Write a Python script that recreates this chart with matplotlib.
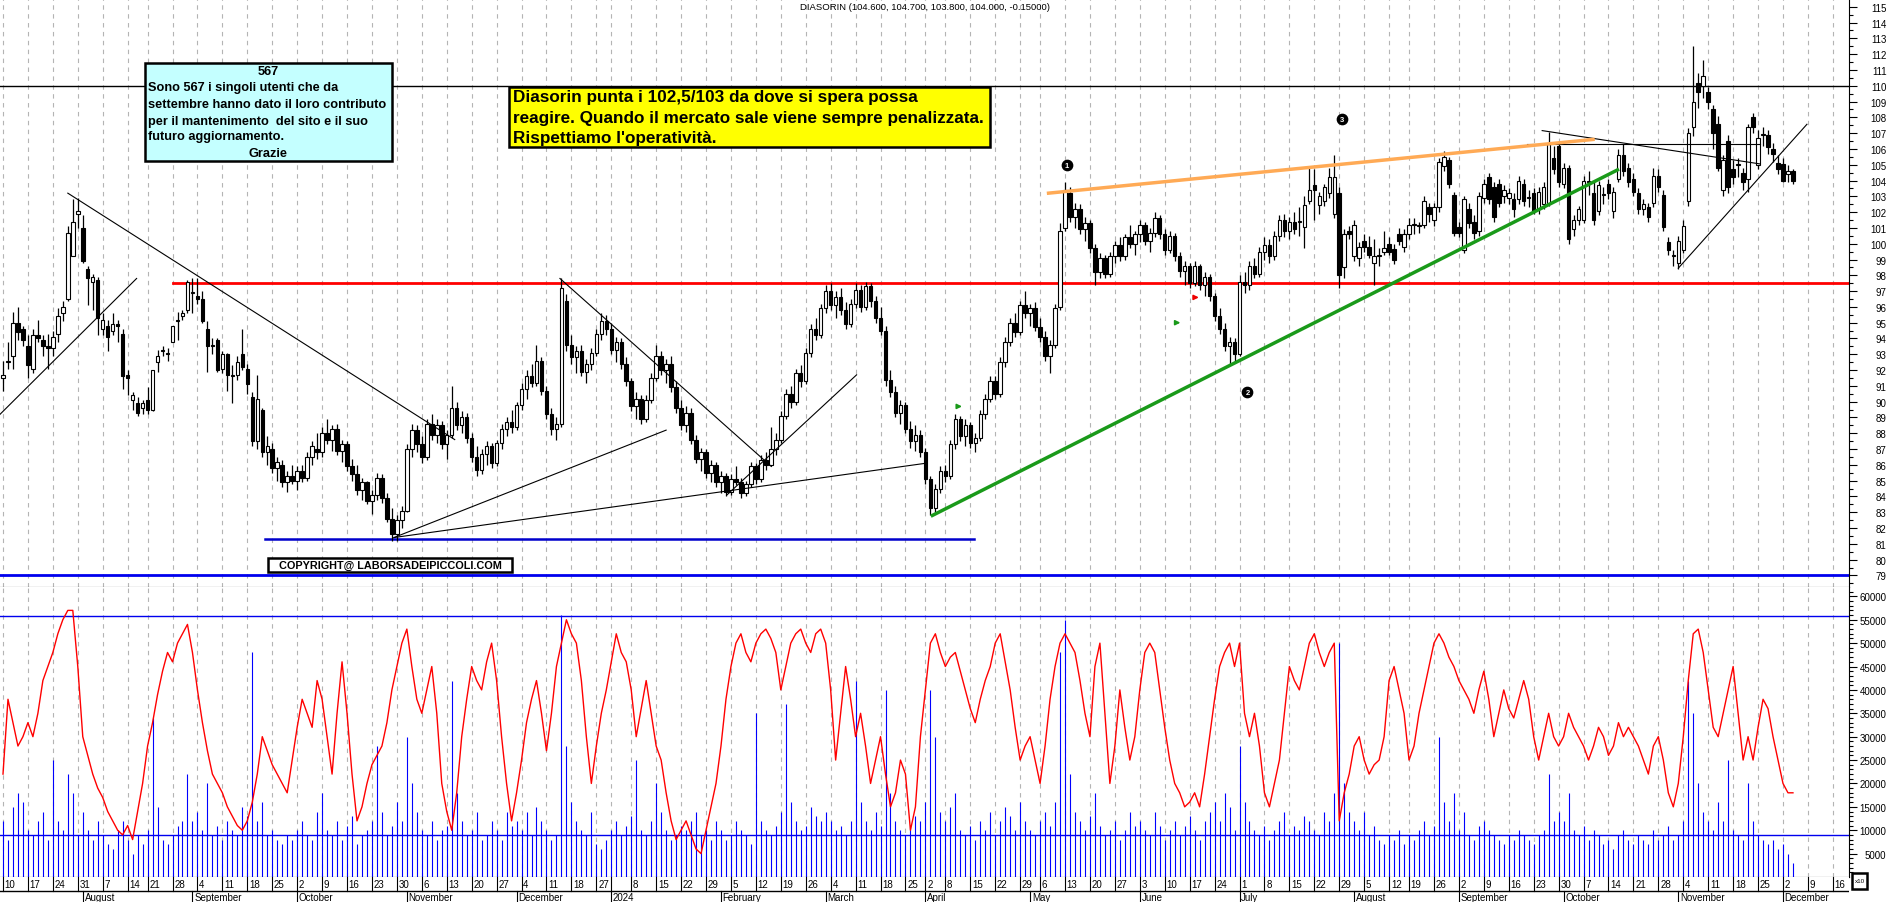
import matplotlib
matplotlib.use("Agg")
import matplotlib.pyplot as plt
from matplotlib.patches import Rectangle
import numpy as np
import pandas as pd

plt.rcParams['font.family'] = ['Liberation Sans', 'DejaVu Sans']

# daily candles (open, high, low, close), one list per month
jul23 = [(91.5, 92.6, 90.7, 91.7), (92.5, 93.8, 92.1, 92.5), (92.9, 95.7, 92.1, 95.0), (95.0, 96.0, 93.9, 94.4),
         (94.6, 94.8, 93.5, 93.9), (93.5, 94.2, 91.5, 92.3), (92.1, 94.6, 91.8, 94.2), (94.2, 95.2, 93.8, 94.0),
         (93.9, 94.2, 92.9, 93.5), (93.5, 94.3, 92.1, 93.4), (93.4, 94.5, 92.9, 94.1), (94.3, 95.9, 93.8, 95.4),
         (95.6, 96.4, 95.1, 96.0), (96.5, 101.1, 96.4, 100.7), (99.2, 102.8, 99.2, 101.4), (101.9, 102.9, 101.0, 102.1)]
aug23 = [(101.0, 101.8, 98.8, 98.9), (98.4, 98.6, 96.1, 97.8), (97.6, 98.1, 95.8, 97.9), (97.7, 97.9, 94.2, 95.3),
         (94.6, 95.6, 94.2, 95.2), (94.8, 95.2, 93.2, 94.1), (94.5, 95.6, 94.2, 94.9), (94.9, 95.2, 93.8, 94.8),
         (94.3, 94.6, 90.8, 91.6), (91.7, 92.0, 90.4, 91.5), (90.1, 90.6, 89.5, 90.4), (89.9, 90.3, 89.1, 89.3),
         (89.6, 90.1, 89.2, 89.9), (90.1, 90.9, 89.2, 89.5), (89.5, 92.0, 89.4, 92.0), (92.5, 93.3, 91.9, 92.9),
         (93.2, 93.5, 92.9, 93.2), (93.0, 93.4, 92.6, 93.0), (93.8, 94.8, 93.8, 94.8), (95.1, 95.7, 93.9, 95.2),
         (95.4, 95.8, 95.2, 95.6), (95.8, 97.7, 95.6, 97.6)]
sep23 = [(96.9, 97.8, 95.6, 96.9), (96.7, 97.8, 96.2, 96.5), (96.5, 97.0, 95.0, 95.1), (94.6, 95.1, 91.9, 93.5),
         (93.6, 94.0, 93.0, 93.5), (93.9, 94.0, 91.9, 92.0), (92.1, 93.2, 91.8, 93.0), (93.0, 93.1, 90.7, 91.7),
         (91.6, 92.3, 89.9, 91.7), (91.7, 92.9, 91.4, 92.5), (93.0, 94.6, 92.0, 92.2), (92.1, 92.4, 90.5, 91.1),
         (90.3, 90.6, 87.2, 87.5), (87.5, 91.7, 87.0, 90.2), (89.5, 89.6, 86.5, 86.8), (86.8, 87.8, 86.0, 87.2),
         (87.0, 87.4, 85.5, 85.8), (85.8, 86.5, 85.0, 86.2), (86.0, 86.3, 84.6, 84.9), (84.9, 85.6, 84.3, 85.3),
         (85.3, 86.0, 84.8, 85.0)]
oct23 = [(85.0, 85.9, 84.4, 85.6), (85.6, 86.0, 84.9, 85.2), (85.2, 86.8, 85.0, 86.5), (86.5, 87.5, 86.0, 87.2),
         (87.0, 88.0, 86.4, 86.8), (86.8, 88.4, 86.5, 88.0), (88.0, 88.9, 87.3, 87.6), (87.6, 88.5, 86.9, 88.3),
         (88.3, 88.6, 86.6, 86.9), (86.9, 87.6, 86.2, 87.3), (87.3, 87.5, 85.6, 85.9), (85.9, 86.4, 85.0, 85.4),
         (85.4, 86.0, 84.1, 84.4), (84.4, 85.2, 83.8, 84.9), (84.9, 85.0, 83.5, 83.7), (83.7, 84.4, 82.9, 84.1),
         (84.1, 85.5, 83.8, 85.2), (85.2, 85.4, 83.6, 83.9), (83.9, 84.2, 82.4, 82.6), (82.6, 83.3, 81.2, 81.6),
         (81.6, 82.8, 81.2, 82.5), (82.5, 83.4, 82.0, 83.1)]
nov23 = [(83.1, 87.3, 83.0, 87.0), (87.0, 88.6, 86.5, 88.2), (88.2, 88.5, 86.8, 87.3), (87.3, 87.8, 86.1, 86.5),
         (86.5, 88.9, 86.3, 88.6), (88.6, 89.2, 87.6, 87.9), (87.9, 88.9, 87.4, 88.5), (88.5, 88.8, 87.0, 87.3),
         (87.3, 88.2, 86.4, 87.9), (87.9, 91.0, 87.7, 89.6), (89.6, 90.0, 88.2, 88.5), (88.5, 89.4, 88.0, 89.0),
         (89.0, 89.3, 87.4, 87.7), (87.7, 88.0, 86.2, 86.5), (86.5, 87.2, 85.3, 85.7), (85.7, 87.0, 85.4, 86.7),
         (86.7, 87.5, 86.0, 87.2), (87.2, 87.4, 85.8, 86.1), (86.1, 87.6, 85.9, 87.4), (87.4, 88.6, 87.0, 88.3),
         (88.3, 89.0, 87.8, 88.7), (88.7, 89.5, 88.0, 88.4)]
dec23 = [(88.4, 90.0, 88.2, 89.8), (89.8, 91.2, 89.5, 90.8), (90.8, 92.0, 90.2, 91.6), (91.6, 92.4, 90.9, 91.2),
         (91.2, 93.6, 91.0, 92.6), (92.6, 92.8, 90.4, 90.7), (90.7, 91.0, 88.9, 89.2), (89.2, 89.6, 87.9, 88.3),
         (88.3, 89.0, 87.6, 88.6), (88.6, 97.8, 88.4, 97.2), (96.4, 96.8, 93.2, 93.6), (93.6, 94.2, 92.4, 92.8),
         (92.8, 93.5, 91.8, 93.2), (93.2, 93.6, 91.6, 91.9), (91.9, 92.7, 91.2, 92.4), (92.4, 93.4, 92.0, 93.1),
         (93.1, 94.6, 92.9, 94.3), (94.3, 95.6, 93.9, 95.1), (95.1, 95.5, 94.2, 94.6)]
jan24 = [(94.6, 95.0, 93.0, 93.3), (93.3, 94.1, 92.5, 93.8), (93.8, 94.0, 92.1, 92.4), (92.4, 92.8, 91.0, 91.3),
         (91.3, 91.5, 89.4, 89.7), (89.7, 90.6, 88.9, 90.2), (90.2, 90.4, 88.6, 88.9), (88.9, 90.4, 88.7, 90.1),
         (90.1, 91.8, 89.9, 91.5), (91.5, 93.6, 91.3, 92.9), (92.9, 93.2, 91.7, 92.0), (92.0, 92.7, 91.2, 92.4),
         (92.4, 92.9, 90.6, 90.9), (90.9, 91.3, 89.3, 89.6), (89.6, 90.1, 88.2, 88.5), (88.5, 89.7, 88.1, 89.3),
         (89.3, 89.6, 87.3, 87.6), (87.6, 87.9, 86.1, 86.4), (86.4, 87.1, 85.6, 86.8), (86.8, 87.0, 85.2, 85.5),
         (85.5, 86.3, 84.9, 86.0), (86.0, 86.2, 84.6, 84.9)]
feb24 = [(84.9, 85.6, 84.2, 85.3), (85.3, 85.5, 84.0, 84.3), (84.3, 85.4, 84.1, 85.1), (85.1, 85.9, 84.7, 84.9),
         (84.9, 85.2, 83.9, 84.2), (84.2, 85.0, 84.0, 84.8), (84.8, 86.2, 84.6, 85.9), (85.9, 86.1, 84.8, 85.1),
         (85.1, 86.6, 84.9, 86.3), (86.3, 86.8, 85.7, 86.0), (86.0, 88.4, 85.9, 87.0), (87.0, 88.0, 86.6, 87.6),
         (87.6, 89.4, 87.4, 89.1), (89.1, 90.8, 88.9, 90.5), (90.5, 91.0, 89.6, 90.0), (90.0, 92.1, 89.8, 91.8),
         (91.8, 92.3, 90.9, 91.3), (91.3, 93.4, 91.1, 93.1), (93.1, 94.9, 92.8, 94.6), (94.6, 95.3, 93.9, 94.2),
         (94.2, 96.2, 94.0, 95.9)]
mar24 = [(95.9, 97.4, 95.6, 97.0), (97.0, 97.5, 95.8, 96.1), (96.1, 97.0, 95.3, 96.6), (96.6, 97.2, 95.5, 95.8),
         (95.8, 96.3, 94.6, 94.9), (94.9, 96.5, 94.7, 96.2), (96.2, 97.5, 95.9, 97.1), (97.1, 97.4, 95.7, 96.0),
         (96.0, 97.6, 95.8, 97.3), (97.3, 97.5, 96.0, 96.4), (96.4, 96.7, 95.0, 95.3), (95.3, 96.0, 94.2, 94.5),
         (94.5, 94.8, 91.0, 91.4), (91.4, 92.0, 90.3, 90.6), (90.6, 91.0, 89.0, 89.3), (89.3, 90.1, 88.6, 89.8),
         (89.8, 90.0, 88.0, 88.3), (88.3, 88.8, 87.1, 87.5), (87.5, 88.5, 86.9, 87.9), (87.9, 88.2, 86.5, 86.8)]
apr24 = [(86.8, 87.1, 84.8, 85.1), (85.1, 85.3, 82.8, 83.3), (83.3, 84.8, 83.0, 84.5), (84.5, 85.9, 84.2, 85.6),
         (85.6, 86.0, 84.9, 85.3), (85.3, 87.6, 85.1, 87.3), (87.3, 89.2, 87.0, 88.9), (88.9, 89.1, 87.5, 87.8),
         (87.8, 88.9, 87.2, 88.5), (88.5, 88.7, 87.1, 87.4), (87.4, 88.0, 86.8, 87.7), (87.7, 89.5, 87.5, 89.2),
         (89.2, 90.5, 88.9, 90.2), (90.2, 91.6, 90.0, 91.3), (91.3, 91.6, 90.2, 90.5), (90.5, 92.8, 90.3, 92.5),
         (92.5, 94.1, 92.2, 93.8), (93.8, 95.3, 93.5, 95.0), (95.0, 95.6, 94.1, 94.4), (94.4, 96.4, 94.2, 96.1),
         (96.1, 97.0, 95.3, 95.6)]
may24 = [(95.6, 96.2, 94.8, 95.9), (95.9, 96.3, 94.5, 94.7), (94.7, 95.3, 93.8, 94.1), (94.1, 94.5, 92.6, 92.9),
         (92.9, 93.9, 91.8, 93.6), (93.6, 96.2, 93.4, 95.9), (96.0, 101.3, 95.8, 100.8), (101.0, 103.9, 100.8, 103.4),
         (103.2, 103.6, 101.4, 101.7), (101.7, 102.6, 101.0, 102.2), (102.2, 102.5, 100.6, 100.9), (100.9, 101.7, 100.2, 101.3),
         (101.3, 101.5, 99.4, 99.7), (99.7, 100.0, 97.4, 98.2), (98.2, 99.4, 97.8, 99.1), (99.1, 99.3, 97.8, 98.1),
         (98.1, 99.5, 97.9, 99.2), (99.2, 100.2, 98.8, 99.9), (99.9, 100.4, 98.9, 99.2), (99.2, 100.6, 99.0, 100.4),
         (100.4, 101.2, 99.7, 100.0), (100.0, 100.8, 99.3, 100.6)]
jun24 = [(100.6, 101.5, 100.1, 101.2), (101.2, 101.4, 99.9, 100.2), (100.2, 101.0, 99.5, 100.7), (100.7, 102.0, 100.4, 101.6),
         (101.6, 101.8, 100.3, 100.6), (100.6, 100.9, 99.3, 99.6), (99.6, 100.8, 99.4, 100.5), (100.5, 100.7, 98.9, 99.2),
         (99.2, 99.5, 97.9, 98.3), (98.3, 98.9, 97.4, 98.6), (98.6, 98.8, 97.2, 97.5), (97.5, 98.9, 97.3, 98.6),
         (98.6, 98.7, 97.1, 97.4), (97.4, 98.2, 96.7, 97.9), (97.9, 98.1, 96.4, 96.7), (96.7, 96.9, 95.1, 95.4),
         (95.4, 95.9, 94.3, 94.6), (94.6, 95.0, 93.2, 93.5), (93.5, 94.1, 92.3, 93.8), (93.8, 94.0, 92.6, 93.0)]
jul24 = [(93.0, 98.0, 92.9, 97.6), (97.6, 98.2, 96.9, 97.4), (97.4, 98.9, 97.1, 98.6), (98.6, 99.1, 97.8, 98.1),
         (98.1, 99.8, 97.9, 99.5), (99.5, 100.4, 99.0, 99.9), (99.9, 100.3, 98.8, 99.2), (99.2, 100.8, 99.0, 100.5),
         (100.5, 101.8, 100.2, 101.5), (101.5, 101.9, 100.4, 100.8), (100.8, 101.7, 100.3, 101.4), (101.4, 102.0, 100.6, 100.9),
         (101.4, 102.3, 100.5, 101.4), (101.05, 103.0, 99.7, 102.45), (102.7, 104.8, 102.5, 103.4), (103.7, 104.7, 101.5, 103.4),
         (102.45, 103.3, 101.9, 103.05), (102.7, 103.8, 102.4, 103.6), (103.2, 104.8, 102.9, 104.2), (101.9, 105.6, 101.6, 104.2),
         (103.2, 103.6, 97.2, 98.0), (98.5, 100.9, 97.8, 100.6), (100.8, 101.1, 100.3, 100.6)]
aug24 = [(99.2, 101.5, 98.9, 101.2), (99.1, 100.1, 98.6, 99.8), (100.2, 100.6, 99.5, 99.8), (99.8, 100.5, 99.1, 99.3),
         (98.8, 100.3, 97.4, 99.2), (99.2, 99.7, 98.6, 99.2), (99.5, 100.8, 99.3, 99.7), (100.0, 100.4, 99.3, 99.5),
         (99.65, 100.0, 98.7, 99.0), (100.6, 101.0, 99.9, 100.2), (99.8, 100.9, 99.5, 100.6), (100.6, 101.6, 100.3, 101.2),
         (101.2, 101.6, 100.6, 101.2), (101.1, 101.4, 100.7, 101.1), (101.2, 103.0, 101.0, 102.7), (102.3, 102.6, 101.4, 101.9),
         (101.5, 102.6, 101.1, 102.3), (102.3, 105.4, 102.0, 105.2), (104.9, 105.9, 104.6, 105.5), (105.3, 105.5, 103.5, 103.8),
         (103.1, 103.3, 100.5, 100.7)]
sep24 = [(101.05, 101.4, 100.4, 100.7), (99.6, 103.0, 99.4, 102.8), (102.2, 102.6, 101.0, 101.3), (101.4, 101.8, 100.3, 100.7),
         (100.8, 103.3, 100.5, 103.0), (102.9, 104.1, 102.6, 103.8), (104.2, 104.5, 102.5, 102.8), (103.6, 103.9, 101.4, 101.7),
         (103.8, 104.1, 102.3, 102.6), (103.0, 103.7, 102.6, 103.4), (102.9, 103.5, 102.5, 103.2), (102.8, 103.2, 101.7, 102.2),
         (102.8, 104.3, 102.5, 104.0), (103.8, 104.1, 102.4, 102.7), (102.9, 103.4, 102.3, 102.9), (103.2, 103.5, 101.9, 102.1),
         (102.2, 103.6, 101.9, 103.3), (102.5, 103.9, 102.2, 103.6), (102.6, 107.1, 102.4, 106.3), (105.4, 106.2, 104.4, 104.7),
         (106.2, 106.5, 103.6, 103.9)]
oct24 = [(103.8, 105.1, 103.5, 104.8), (104.8, 105.0, 100.0, 100.3), (100.9, 101.8, 100.5, 101.5), (101.5, 102.4, 101.2, 102.2),
         (101.5, 104.3, 101.3, 104.0), (103.9, 104.6, 103.1, 103.9), (103.2, 103.9, 101.2, 101.5), (102.1, 104.0, 101.8, 103.7),
         (103.1, 103.6, 102.5, 103.1), (103.8, 104.1, 102.8, 103.2), (102.1, 103.6, 101.6, 103.3), (104.1, 106.0, 103.9, 105.6),
         (105.6, 106.3, 104.3, 104.6), (104.8, 105.1, 103.6, 103.9), (104.1, 104.5, 103.0, 103.3), (103.2, 103.5, 101.9, 102.2),
         (102.2, 102.8, 101.8, 102.5), (102.3, 102.6, 101.4, 101.7), (102.6, 104.8, 102.3, 104.3), (104.3, 104.7, 103.3, 103.6),
         (103.1, 103.4, 100.8, 101.05), (100.1, 100.4, 99.3, 99.6), (99.2, 99.6, 98.6, 99.2)]
nov24 = [(98.8, 100.5, 98.4, 100.2), (99.6, 101.5, 99.4, 101.1), (102.7, 107.3, 102.4, 107.0), (107.4, 112.5, 106.8, 109.0),
         (110.2, 110.8, 108.6, 109.6), (110.0, 111.6, 109.2, 110.6), (109.6, 109.9, 108.5, 109.0), (108.5, 108.8, 106.0, 107.0),
         (107.6, 108.1, 104.6, 104.8), (103.4, 105.6, 103.0, 105.3), (106.5, 106.9, 103.2, 103.6), (104.7, 105.3, 103.8, 104.2),
         (105.0, 105.4, 104.2, 105.0), (104.5, 104.8, 103.4, 103.9), (104.1, 107.6, 103.3, 107.4), (108.0, 108.3, 107.0, 107.4),
         (105.0, 107.2, 104.7, 106.7), (106.9, 107.4, 106.2, 106.9), (106.9, 107.2, 105.7, 106.1), (106.0, 106.4, 105.2, 105.65),
         (105.1, 105.6, 104.4, 104.7)]
dec24 = [(105.05, 105.4, 103.9, 104.0), (104.4, 105.0, 103.9, 104.6), (104.6, 104.7, 103.8, 104.0)]

# volume (blue bars) per month
vol_months = [
    [12000, 8000, 15000, 18000, 16000, 10000, 9000, 12000, 14000, 8000, 25000, 12000, 10000, 22000, 18000, 9000],
    [14000, 10000, 8000, 12000, 9000, 7000, 6000, 10000, 12000, 8000, 5000, 9000, 7000, 10000, 34000, 15000, 8000, 7000, 9000, 11000, 12000, 22000],
    [12000, 14000, 10000, 20000, 9000, 11000, 8000, 12000, 10000, 9000, 15000, 13000, 48000, 12000, 16000, 9000, 10000, 8000, 7000, 9000, 8000],
    [10000, 12000, 9000, 8000, 14000, 18000, 10000, 9000, 12000, 8000, 11000, 13000, 7000, 9000, 10000, 12000, 28000, 14000, 9000, 11000, 16000, 12000],
    [30000, 20000, 14000, 10000, 9000, 12000, 8000, 10000, 11000, 42000, 18000, 12000, 9000, 10000, 14000, 8000, 9000, 12000, 10000, 8000, 14000, 11000],
    [12000, 10000, 14000, 9000, 15000, 12000, 10000, 8000, 9000, 56000, 28000, 16000, 12000, 10000, 9000, 14000, 7000, 6000, 8000],
    [10000, 12000, 9000, 11000, 13000, 25000, 10000, 9000, 12000, 20000, 14000, 10000, 8000, 9000, 11000, 10000, 12000, 14000, 9000, 10000, 8000, 12000],
    [10000, 8000, 9000, 12000, 10000, 9000, 7000, 35000, 12000, 10000, 9000, 11000, 14000, 37000, 16000, 12000, 10000, 11000, 15000, 13000, 12000],
    [14000, 12000, 10000, 11000, 9000, 12000, 42000, 16000, 12000, 10000, 14000, 11000, 40000, 18000, 12000, 10000, 9000, 11000, 13000, 12000],
    [16000, 40000, 30000, 14000, 12000, 15000, 18000, 10000, 9000, 11000, 8000, 12000, 10000, 14000, 9000, 12000, 15000, 13000, 10000, 16000, 12000],
    [10000, 9000, 12000, 14000, 11000, 16000, 48000, 55000, 22000, 14000, 12000, 10000, 13000, 18000, 11000, 9000, 10000, 12000, 8000, 10000, 14000, 11000],
    [12000, 10000, 9000, 14000, 11000, 8000, 10000, 12000, 9000, 11000, 13000, 10000, 8000, 12000, 14000, 16000, 12000, 18000, 15000, 10000],
    [28000, 16000, 12000, 10000, 9000, 11000, 8000, 10000, 12000, 14000, 9000, 11000, 10000, 13000, 12000, 10000, 9000, 14000, 12000, 18000, 50000, 20000, 14000],
    [12000, 10000, 14000, 9000, 11000, 8000, 7000, 9000, 8000, 10000, 7000, 9000, 8000, 10000, 12000, 9000, 11000, 30000, 16000, 12000, 18000],
    [10000, 14000, 9000, 8000, 11000, 12000, 10000, 9000, 8000, 7000, 9000, 8000, 10000, 9000, 8000, 7000, 9000, 10000, 22000, 12000, 14000],
    [12000, 18000, 10000, 9000, 11000, 8000, 10000, 9000, 7000, 8000, 6000, 9000, 10000, 8000, 7000, 9000, 8000, 7000, 10000, 8000, 9000, 11000, 8000],
    [9000, 12000, 42000, 35000, 20000, 14000, 12000, 10000, 16000, 12000, 25000, 10000, 9000, 8000, 20000, 12000, 9000, 8000, 7000, 8000, 6000],
    [7000, 5000, 3000],
]

# red line in the lower panel, per month
osc_months = [
    [22000, 38000, 33000, 28000, 30000, 33000, 30000, 35000, 42000, 45000, 48000, 52000, 55000, 57000, 57000, 45000],
    [30000, 26000, 22000, 19000, 17000, 14000, 12000, 10000, 9000, 11000, 8000, 14000, 20000, 28000, 33000, 39000, 44000, 48000, 46000, 50000, 52000, 54000],
    [48000, 40000, 33000, 27000, 22000, 20000, 18000, 15000, 13000, 11000, 10000, 12000, 16000, 22000, 30000, 27000, 24000, 22000, 20000, 18000, 25000],
    [32000, 38000, 35000, 32000, 42000, 38000, 30000, 22000, 35000, 46000, 35000, 22000, 12000, 15000, 20000, 24000, 26000, 28000, 33000, 40000, 45000, 50000],
    [53000, 45000, 38000, 35000, 40000, 45000, 35000, 20000, 14000, 10000, 18000, 30000, 38000, 45000, 42000, 40000, 46000, 50000, 42000, 30000, 20000, 12000],
    [18000, 25000, 33000, 38000, 42000, 35000, 27000, 35000, 45000, 50000, 55000, 52000, 50000, 42000, 30000, 20000, 28000, 35000, 40000],
    [46000, 52000, 48000, 46000, 40000, 30000, 36000, 42000, 35000, 28000, 25000, 18000, 12000, 8000, 10000, 12000, 9000, 6000, 5000, 10000, 15000, 20000],
    [28000, 38000, 45000, 50000, 52000, 48000, 46000, 50000, 52000, 53000, 51000, 48000, 40000, 45000, 50000, 52000, 53000, 50000, 48000, 52000, 53000],
    [50000, 40000, 25000, 35000, 45000, 38000, 30000, 35000, 28000, 20000, 25000, 30000, 22000, 15000, 18000, 25000, 22000, 10000, 15000, 30000],
    [40000, 50000, 52000, 48000, 45000, 47000, 48000, 44000, 40000, 36000, 33000, 38000, 42000, 45000, 50000, 52000, 46000, 40000, 32000, 25000, 28000],
    [30000, 25000, 20000, 28000, 38000, 45000, 50000, 52000, 50000, 48000, 42000, 35000, 30000, 45000, 50000, 35000, 20000, 28000, 40000, 32000, 25000, 30000],
    [40000, 48000, 50000, 48000, 40000, 32000, 25000, 20000, 18000, 15000, 16000, 18000, 15000, 22000, 30000, 38000, 45000, 48000, 50000, 45000],
    [50000, 35000, 30000, 35000, 28000, 18000, 15000, 20000, 25000, 35000, 45000, 42000, 40000, 45000, 50000, 52000, 48000, 45000, 48000, 50000, 12000, 18000, 22000],
    [28000, 30000, 25000, 22000, 24000, 25000, 30000, 42000, 45000, 40000, 35000, 25000, 28000, 35000, 40000, 45000, 50000, 52000, 50000, 47000, 45000],
    [42000, 40000, 38000, 35000, 40000, 44000, 38000, 30000, 35000, 40000, 36000, 34000, 38000, 42000, 38000, 30000, 25000, 30000, 35000, 30000, 28000],
    [30000, 35000, 32000, 30000, 28000, 25000, 28000, 32000, 30000, 26000, 28000, 33000, 30000, 32000, 30000, 28000, 25000, 22000, 28000, 30000, 25000, 18000, 15000],
    [20000, 30000, 42000, 52000, 53000, 48000, 40000, 32000, 30000, 35000, 40000, 45000, 35000, 25000, 30000, 25000, 32000, 38000, 36000, 30000, 25000],
    [20000, 18000, 18000],
]

holidays = ['2023-08-15', '2023-12-25', '2023-12-26', '2024-01-01',
            '2024-03-29', '2024-04-01', '2024-05-01', '2024-08-15']

candles = (jul23 + aug23 + sep23 + oct23 + nov23 + dec23 + jan24 + feb24 + mar24
           + apr24 + may24 + jun24 + jul24 + aug24 + sep24 + oct24 + nov24 + dec24)
volume = np.array(sum(vol_months, []), dtype=float)
osc = np.array(sum(osc_months, []), dtype=float)

o = np.array([c[0] for c in candles])
h = np.array([c[1] for c in candles])
l = np.array([c[2] for c in candles])
c = np.array([c[3] for c in candles])
n = len(candles)
x = np.arange(n)
if len(volume) != n or len(osc) != n:
    raise SystemExit(f"length mismatch {n} {len(volume)} {len(osc)}")

days = pd.bdate_range('2023-07-10', '2024-12-20')
days = days[~days.isin(pd.to_datetime(holidays))]

W, H = 1890, 903
fig = plt.figure(figsize=(W / 100, H / 100), dpi=100)

def px_axes(x0, y0, x1, y1):
    return fig.add_axes([x0 / W, 1 - y1 / H, (x1 - x0) / W, (y1 - y0) / H])

ax = px_axes(0, 0, 1849, 588)
axv = px_axes(0, 588, 1849, 878)
axd = px_axes(0, 878, 1849, 903)

xlim = (-0.6, -0.6 + 1849 / 4.986)
for a in (ax, axv, axd):
    a.set_xlim(*xlim)
    a.set_xticks([])
    for s in ('left', 'top'):
        a.spines[s].set_visible(False)
ax.set_ylim(78.27, 115.49)
axv.set_ylim(0, 62000)

# week and month starts
week_starts = [0] + [i for i in range(1, len(days)) if days[i].weekday() < days[i - 1].weekday()]
month_starts = [0] + [i for i in range(1, len(days)) if days[i].month != days[i - 1].month]

grid_kw = dict(color='#b4b4b4', lw=0.8, linestyle=(0, (4, 4)), zorder=0)
for w in week_starts:
    if w < xlim[1]:
        ax.axvline(w, **grid_kw)
        axv.axvline(w, **grid_kw)

# right axes
ax.set_yticks(np.arange(79, 116, 1))
ax.set_yticks(np.arange(78.5, 115.5, 0.5), minor=True)
axv.set_yticks(np.arange(5000, 60001, 5000))
axv.set_yticks(np.arange(1000, 62000, 1000), minor=True)
for a in (ax, axv):
    a.yaxis.tick_right()
    a.tick_params(axis='y', which='major', length=6, width=0.8, pad=21, labelsize=7)
    a.tick_params(axis='y', which='minor', length=3, width=0.8)
    for t in a.get_yticklabels():
        t.set_horizontalalignment('right')

# candles
up = c >= o
ax.vlines(x, l, h, color='black', lw=0.9, zorder=3)
ax.bar(x, np.maximum(np.abs(c - o), 0.06), bottom=np.minimum(o, c), width=0.7,
       color=np.where(up, 'white', 'black'), edgecolor='black', linewidth=0.8, zorder=4)

# horizontal levels and trendlines
ax.axhline(110, color='black', lw=1.0, zorder=2)
ax.axhline(79, color='#0000ee', lw=2.0, zorder=2)
ax.plot([34, xlim[1]], [97.5, 97.5], color='#ff0000', lw=2.0, zorder=2)
ax.plot([52.6, 194.8], [81.3, 81.3], color='#0000cc', lw=1.8, zorder=2)

trend_lines = [
    ((-0.6, 26.8), (89.2, 97.8)),
    ((13.0, 90.6), (103.2, 87.6)),
    ((78.4, 133.0), (81.4, 88.2)),
    ((78.4, 185.0), (81.4, 86.1)),
    ((111.7, 154.1), (97.8, 85.9)),
    ((145.2, 171.2), (84.1, 91.7)),
    ((305.7, 352.4), (106.34, 106.34)),
    ((308.7, 352.4), (107.16, 105.05)),
    ((336.0, 361.8), (98.45, 107.56)),
]
for xs, ys in trend_lines:
    ax.plot(xs, ys, color='black', lw=0.8, zorder=5)
ax.plot([209.7, 318.9], [103.2, 106.6], color='#ffaa55', lw=2.5, zorder=5)
ax.plot([186.4, 323.8], [82.8, 104.67], color='#1a9a1a', lw=2.5, zorder=5)

# small arrows
for ax_x, ax_y, col in [(191.5, 89.7, '#1a9a1a'), (235.3, 95.0, '#1a9a1a'), (239.0, 96.6, '#ee0000')]:
    ax.annotate('', xy=(ax_x + 1.4, ax_y), xytext=(ax_x - 0.6, ax_y),
                arrowprops=dict(arrowstyle='-|>', color=col, lw=1.2, mutation_scale=7), zorder=6)

# numbered markers
for mx, my, lab in [(213.4, 105.0, '1'), (249.6, 90.6, '2'), (268.5, 107.9, '3')]:
    ax.scatter([mx], [my], s=55, color='black', zorder=7)
    ax.text(mx, my - 0.03, lab, color='white', fontsize=5.5, fontweight='bold',
            ha='center', va='center', zorder=8)

# volume panel
axv.vlines(x, 0, volume, color='#0000ff', lw=0.8, zorder=2)
axv.plot(x, osc, color='#ff0000', lw=1.0, zorder=3)
axv.axhline(55700, color='#0000ee', lw=1.0, zorder=1)
axv.axhline(9000, color='#0000ee', lw=1.0, zorder=1)

# date strip
axd.set_ylim(0, 25)
axd.set_yticks([])
axd.spines['right'].set_visible(False)
axd.spines['bottom'].set_visible(False)
axd.axhline(11, color='black', lw=1.0)
for w in week_starts:
    if w > xlim[1]:
        continue
    axd.plot([w, w], [11, 25], color='black', lw=0.8)
    if days[w] == pd.Timestamp('2024-01-02'):
        continue
    axd.text(w + 0.35, 18, str(days[w].day), fontsize=7, ha='left', va='center')
for m in month_starts[1:]:
    if m > xlim[1]:
        continue
    axd.plot([m, m], [0, 11], color='black', lw=0.8)
    name = '2024' if days[m].month == 1 else days[m].strftime('%B')
    axd.text(m + 0.35, 5, name, fontsize=7, ha='left', va='center')

# title
fig.text(925 / W, 1 - 8 / H, 'DIASORIN (104.600, 104.700, 103.800, 104.000, -0.15000)',
         fontsize=6.8, ha='center', va='center')

def px_box(x0, y0, x1, y1, face):
    fig.add_artist(Rectangle((x0 / W, 1 - y1 / H), (x1 - x0) / W, (y1 - y0) / H,
                             transform=fig.transFigure, facecolor=face, edgecolor='black', lw=1.8, zorder=10))

def px_text(xp, yp, s, **kw):
    fig.text(xp / W, 1 - yp / H, s, va='center', zorder=11, **kw)

px_box(145, 64, 392, 162, '#c4ffff')
px_text(268.5, 72, '567', fontsize=9.2, fontweight='bold', ha='center')
for yy, s in [(88.5, 'Sono 567 i singoli utenti che da'), (105, 'settembre hanno dato il loro contributo'),
              (121.5, 'per il mantenimento  del sito e il suo'), (137, 'futuro aggiornamento.')]:
    px_text(148.5, yy, s, fontsize=9.2, fontweight='bold', ha='left')
px_text(268.5, 154, 'Grazie', fontsize=9.2, fontweight='bold', ha='center')

px_box(509, 88, 990, 148, '#ffff00')
for yy, s in [(97.5, 'Diasorin punta i 102,5/103 da dove si spera possa'),
              (118.5, 'reagire. Quando il mercato sale viene sempre penalizzata.'),
              (139, "Rispettiamo l'operatività.")]:
    px_text(513, yy, s, fontsize=12.3, fontweight='bold', ha='left')

px_box(268, 559, 512, 573, 'white')
px_text(390, 566, 'COPYRIGHT@ LABORSADEIPICCOLI.COM', fontsize=7.8, fontweight='bold', ha='center')

px_box(1852, 874, 1867, 890, 'white')
px_text(1859.5, 882, 'x10', fontsize=4.5, ha='center')

fig.savefig('out.png', dpi=100)
